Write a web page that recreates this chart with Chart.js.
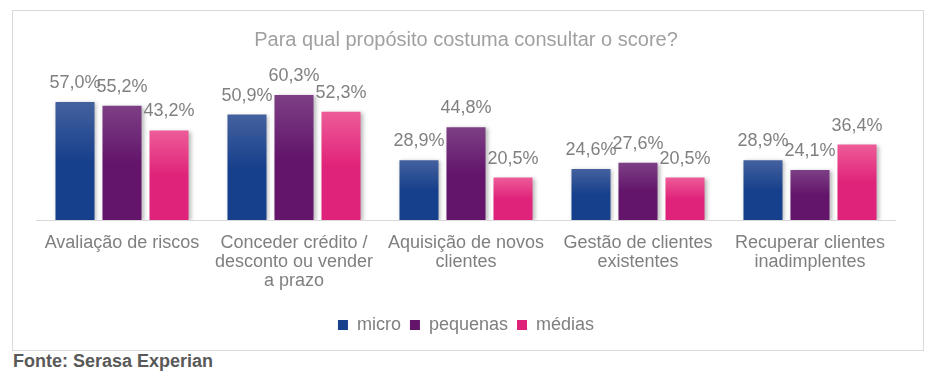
<!DOCTYPE html>
<html><head><meta charset="utf-8">
<script src="https://cdn.jsdelivr.net/npm/chart.js@4.4.0/dist/chart.umd.min.js"></script>
<style>
html,body{margin:0;padding:0;background:#fff;}
#frame{position:absolute;left:12px;top:10px;width:912px;height:341px;border:1px solid #d9d9d9;box-sizing:border-box;}
#frame canvas{display:block;}
#foot{position:absolute;left:13px;top:351px;font-family:"Liberation Sans",Arial,sans-serif;font-weight:bold;font-size:18px;line-height:21px;color:#595959;}
</style></head>
<body>
<div id="frame"><canvas id="c" width="910" height="339"></canvas></div>
<div id="foot">Fonte: Serasa Experian</div>
<script>
const categories = [["Avaliação de riscos"],["Conceder crédito /","desconto ou vender","a prazo"],["Aquisição de novos","clientes"],["Gestão de clientes","existentes"],["Recuperar clientes","inadimplentes"]];
const micro = [57.0, 50.9, 28.9, 24.6, 28.9];
const pequenas = [55.2, 60.3, 44.8, 27.6, 24.1];
const medias = [43.2, 52.3, 20.5, 20.5, 36.4];
const seriesNames = ["micro","pequenas","médias"];
const FONT = '"Liberation Sans", Arial, sans-serif';

const grads = [["#44619e","#17408c"],["#7d3f85","#63156b"],["#ee5c98","#e0237a"]];
function grad(i){
  return function(ctx){
    const ch = ctx.chart; const ca = ch.chartArea;
    if(!ca || ctx.type!=='data') return grads[i][1];
    const y = ch.scales.y;
    const top = y.getPixelForValue(ctx.raw);
    const g = ch.ctx.createLinearGradient(0, top, 0, ca.bottom);
    g.addColorStop(0, grads[i][0]);
    g.addColorStop(0.5, grads[i][1]);
    g.addColorStop(1, grads[i][1]);
    return g;
  };
}
const shadow = {
  id:'shadow',
  beforeDatasetsDraw(ch){ const c=ch.ctx; c.save(); c.shadowColor='rgba(0,0,0,0.28)'; c.shadowBlur=4; c.shadowOffsetX=2; c.shadowOffsetY=1; },
  afterDatasetsDraw(ch){ ch.ctx.restore();
    const c=ch.ctx; c.save(); c.font='18px '+FONT; c.fillStyle='#808080'; c.textAlign='center'; c.textBaseline='middle';
    ch.data.datasets.forEach((ds,di)=>{
      ch.getDatasetMeta(di).data.forEach((el,i)=>{
        c.fillText(ds.data[i].toFixed(1).replace('.',',')+'%', el.x, el.y-19);
      });
    });
    c.restore();
  }
};
const baseline = {
  id:'baseline',
  beforeDatasetsDraw(ch){ const c=ch.ctx, ca=ch.chartArea; c.save(); c.strokeStyle='#d9d9d9'; c.lineWidth=1; c.beginPath(); c.moveTo(ca.left, ca.bottom+0.5); c.lineTo(ca.right, ca.bottom+0.5); c.stroke(); c.restore(); }
};
new Chart(document.getElementById('c'), {
  type:'bar',
  data:{ labels:categories, datasets:[
    {label:seriesNames[0], data:micro, backgroundColor:grad(0)},
    {label:seriesNames[1], data:pequenas, backgroundColor:grad(1)},
    {label:seriesNames[2], data:medias, backgroundColor:grad(2)}
  ]},
  options:{
    responsive:false, animation:false,
    layout:{padding:{left:23,right:27,top:0,bottom:6}},
    datasets:{bar:{categoryPercentage:0.82,barPercentage:0.83}},
    scales:{
      x:{grid:{display:false},border:{display:false},
        afterFit(s){ s.height += 10; },
        ticks:{color:'#7f7f7f',font:{family:FONT,size:18,lineHeight:'19px'},padding:6,maxRotation:0,autoSkip:false}},
      y:{display:false,min:0,max:70}
    },
    plugins:{
      title:{display:true,text:'Para qual propósito costuma consultar o score?',color:'#a0a0a0',font:{family:FONT,size:20,weight:'normal'},padding:{top:17,bottom:23}},
      legend:{position:'bottom',labels:{color:'#7f7f7f',font:{family:FONT,size:18},boxWidth:10,boxHeight:10,padding:9,
        generateLabels(ch){ return ch.data.datasets.map((d,i)=>({text:d.label,fillStyle:grads[i][1],strokeStyle:grads[i][1],lineWidth:0,datasetIndex:i,fontColor:'#7f7f7f'})); }}},
      tooltip:{enabled:false}
    }
  },
  plugins:[baseline, shadow]
});
</script>
</body></html>
